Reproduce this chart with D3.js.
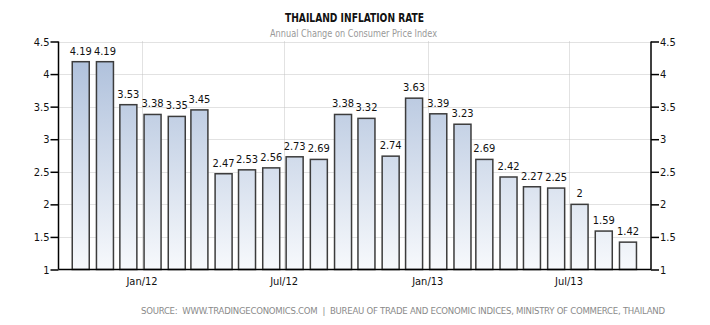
<!DOCTYPE html>
<html><head><meta charset="utf-8">
<script src="https://cdn.jsdelivr.net/npm/d3@7"></script>
<style>
body{margin:0;background:#fff;}
svg{display:block;}
text{font-family:"DejaVu Sans Condensed","DejaVu Sans",sans-serif;}
</style></head>
<body>
<svg id="c" width="710" height="325"></svg>
<script>
const months = ["2011-10","2011-11","2011-12","2012-01","2012-02","2012-03","2012-04","2012-05","2012-06","2012-07","2012-08","2012-09","2012-10","2012-11","2012-12","2013-01","2013-02","2013-03","2013-04","2013-05","2013-06","2013-07","2013-08","2013-09"];
const values = [4.19,4.19,3.53,3.38,3.35,3.45,2.47,2.53,2.56,2.73,2.69,3.38,3.32,2.74,3.63,3.39,3.23,2.69,2.42,2.27,2.25,2,1.59,1.42];
const labels = ["4.19","4.19","3.53","3.38","3.35","3.45","2.47","2.53","2.56","2.73","2.69","3.38","3.32","2.74","3.63","3.39","3.23","2.69","2.42","2.27","2.25","2","1.59","1.42"];
const yTicks = [1,1.5,2,2.5,3,3.5,4,4.5];
const xTickDates = ["2012-01-01","2012-07-01","2013-01-01","2013-07-01"];
const xTickLabels = ["Jan/12","Jul/12","Jan/13","Jul/13"];
const title = "THAILAND INFLATION RATE";
const subtitle = "Annual Change on Consumer Price Index";
const source = "SOURCE:  WWW.TRADINGECONOMICS.COM  |  BUREAU OF TRADE AND ECONOMIC INDICES, MINISTRY OF COMMERCE, THAILAND";

const svg = d3.select("#c");
const L = 58.5, R = 651, T = 41.5, B = 269.5;
const x = d3.scaleUtc().domain([new Date(Date.UTC(2011,8,16)), new Date(Date.UTC(2013,9,14))]).range([L, R]);
const y = d3.scaleLinear().domain([1, 4.5]).range([B, T]);
const barDate = m => { const [yy, mm] = m.split("-").map(Number); return new Date(Date.UTC(yy, mm-1, 14, 12)); };
const bw = 17;

const defs = svg.append("defs");
const g = defs.append("linearGradient").attr("id","bg").attr("x1",0).attr("y1",0).attr("x2",0).attr("y2",1)
  .attr("gradientUnits","userSpaceOnUse").attr("x1",0).attr("x2",0).attr("y1",T).attr("y2",B);
g.append("stop").attr("offset","0%").attr("stop-color","#a9bcd9");
g.append("stop").attr("offset","100%").attr("stop-color","#f7f9fc");

// gridlines
svg.append("g").selectAll("line").data(yTicks.filter(d=>d>1)).join("line")
  .attr("x1",L).attr("x2",R).attr("y1",d=>Math.round(y(d))+0.5).attr("y2",d=>Math.round(y(d))+0.5)
  .attr("stroke","#c4c4c4").attr("stroke-dasharray","1,1");
svg.append("g").selectAll("line").data(xTickDates).join("line")
  .attr("x1",d=>Math.round(x(new Date(d)))+0.5).attr("x2",d=>Math.round(x(new Date(d)))+0.5)
  .attr("y1",T).attr("y2",B)
  .attr("stroke","#c4c4c4").attr("stroke-dasharray","1,1");

// bars
svg.append("g").selectAll("rect").data(values).join("rect")
  .attr("x",(d,i)=>x(barDate(months[i]))-bw/2)
  .attr("width",bw)
  .attr("y",d=>y(d))
  .attr("height",d=>B-y(d))
  .attr("fill","url(#bg)")
  .attr("stroke","#3c3c3c").attr("stroke-width",1.5);

// value labels
svg.append("g").selectAll("text").data(values).join("text")
  .attr("x",(d,i)=>x(barDate(months[i])))
  .attr("y",d=>y(d)-7)
  .attr("text-anchor","middle")
  .attr("font-size","11px").attr("fill","#111")
  .text((d,i)=>labels[i]);

// axes
const yl = d3.axisLeft(y).tickValues(yTicks).tickSize(8).tickFormat(d=>String(d));
const yr = d3.axisRight(y).tickValues(yTicks).tickSize(8).tickFormat(d=>String(d));
const gl = svg.append("g").attr("transform",`translate(${L},0)`).call(yl);
const gr = svg.append("g").attr("transform",`translate(${R},0)`).call(yr);
[gl,gr].forEach(a=>{
  a.select(".domain").attr("stroke","#000").attr("stroke-width",1.5).attr("d",`M0,${T}V${B}`);
  a.selectAll(".tick line").attr("stroke","#000").attr("stroke-width",1.5);
  a.selectAll(".tick text").attr("font-size","11px").attr("fill","#111")
   .attr("font-family",'"DejaVu Sans Condensed","DejaVu Sans",sans-serif');
});
gl.selectAll(".tick text").attr("x",-9);
gr.selectAll(".tick text").attr("x",9);
svg.append("line").attr("x1",L).attr("x2",R).attr("y1",B).attr("y2",B).attr("stroke","#000").attr("stroke-width",1.5);

// x tick labels
svg.append("g").selectAll("text").data(xTickDates).join("text")
  .attr("x",d=>x(new Date(d))).attr("y",285)
  .attr("text-anchor","middle").attr("font-size","11px").attr("fill","#111")
  .text((d,i)=>xTickLabels[i]);

// titles
svg.append("text").attr("x",354.5).attr("y",22).attr("text-anchor","middle")
  .attr("font-size","12px").attr("font-weight","bold").attr("fill","#111")
  .attr("textLength",139).attr("lengthAdjust","spacingAndGlyphs").text(title);
svg.append("text").attr("x",353.5).attr("y",37).attr("text-anchor","middle")
  .attr("font-size","10px").attr("fill","#999")
  .attr("textLength",167).attr("lengthAdjust","spacingAndGlyphs").text(subtitle);
svg.append("text").attr("x",665).attr("y",313.5).attr("text-anchor","end")
  .attr("font-size","9.5px").attr("fill","#8a8a8a").attr("xml:space","preserve")
  .attr("textLength",524).attr("lengthAdjust","spacing").text(source);
</script>
</body></html>
